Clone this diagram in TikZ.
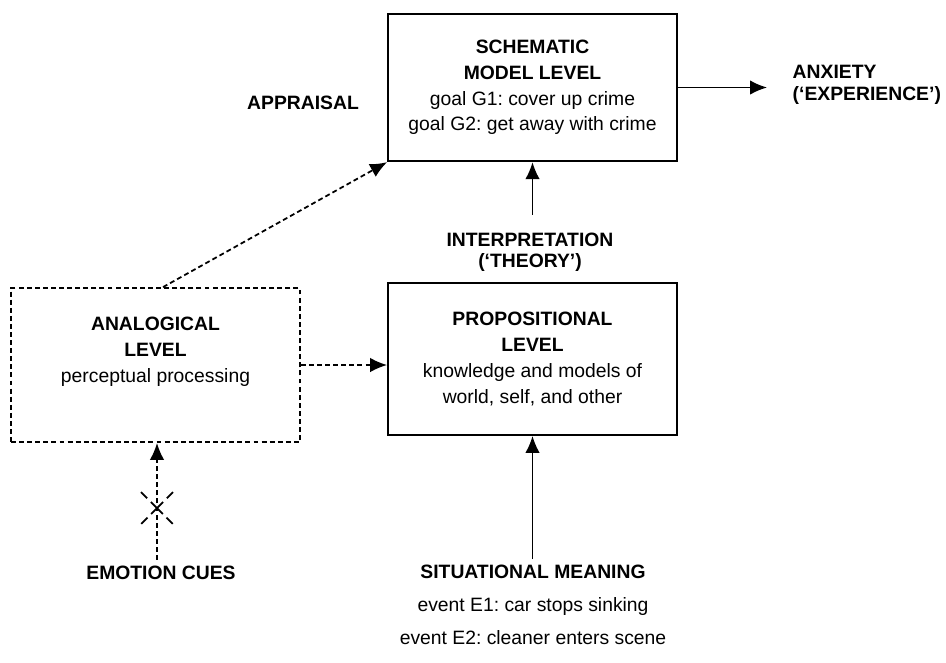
\documentclass[tikz,border=0pt]{standalone}
\usepackage{fontspec}
\setmainfont{Liberation Sans}
\usetikzlibrary{arrows.meta}

\tikzset{
	>={Latex[length=3.4mm,width=2.9mm]},
	every node/.style={font=\fontsize{11}{14.7}\selectfont, align=center},
	levelbox/.style={draw, line width=1pt, minimum width=5.78cm, minimum height=2.95cm},
	dashline/.style={line width=1pt, dash pattern=on 2.8pt off 1.8pt},
	link/.style={->, line width=1pt}
}

\begin{document}
\frenchspacing
\begin{tikzpicture}
	\useasboundingbox (0,0) rectangle (18.92,-13.24);
	\node[levelbox] (sch) at (10.65,-1.75) {\textbf{SCHEMATIC}\\ \textbf{MODEL LEVEL}\\ goal G1: cover up crime\\ goal G2: get away with crime};
	\node[levelbox, minimum height=3.04cm] (prop) at (10.65,-7.18) {\textbf{PROPOSITIONAL}\\ \textbf{LEVEL}\\ knowledge and models of\\ world, self, and other};
	\node[levelbox, dashline, minimum height=3.08cm] (ana) at (3.11,-7.3) {};
	\node (anatext) at ([yshift=0.26cm]ana.center) {\textbf{ANALOGICAL}\\ \textbf{LEVEL}\\ perceptual processing};
	\node (appr) at (6.06,-2.06) {\textbf{APPRAISAL}};
	\node[anchor=west, align=left, font=\fontsize{11}{12.5}\selectfont] (anx) at (15.73,-1.69) {\textbf{ANXIETY}\\ \textbf{(`EXPERIENCE')}};
	\node[font=\fontsize{11}{12}\selectfont] (interp) at (10.6,-5.05) {\textbf{INTERPRETATION}\\ \textbf{(`THEORY')}};
	\node[font=\fontsize{11}{18.7}\selectfont] (sit) at (10.66,-12.1) {\textbf{SITUATIONAL MEANING}\\ event E1: car stops sinking\\ event E2: cleaner enters scene};
	\node (emo) at (3.22,-11.46) {\textbf{EMOTION CUES}};
	\coordinate (cross) at (3.14,-10.16);

	\draw[link, shorten >=0.39cm] (sch.east) -- (sch.east -| anx.west);
	\draw[link, shorten <=0.25cm] (interp.north -| sch.south) -- (sch.south);
	\draw[link] (sit.north -| prop.south) -- (prop.south);
	\draw[link, dashline] ([xshift=0.15cm]ana.north) -- (sch.south west);
	\draw[link, dashline] (ana.east) -- (ana.east -| prop.west);
	\draw[link, dashline] (emo.north -| cross) -- (cross |- ana.south);

	\draw[line width=1pt, dash pattern=on 5pt off 3pt on 9.6pt off 3pt on 5pt off 20pt] ([shift={(-0.32,0.32)}]cross) -- ([shift={(0.32,-0.32)}]cross);
	\draw[line width=1pt, dash pattern=on 5pt off 3pt on 9.6pt off 3pt on 5pt off 20pt] ([shift={(0.32,0.32)}]cross) -- ([shift={(-0.32,-0.32)}]cross);
\end{tikzpicture}
\end{document}
